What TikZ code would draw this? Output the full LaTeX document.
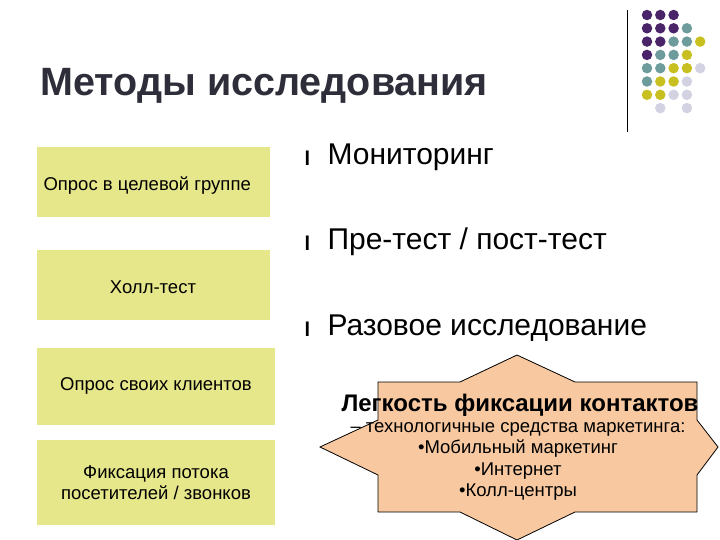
\documentclass[tikz,border=0pt]{standalone}
\usepackage{fontspec}
\setmainfont{Liberation Sans}
\begin{document}
\begin{tikzpicture}[x=1pt,y=-1pt,
  box/.style={fill=boxc,draw=none},
  btxt/.style={font=\fontsize{18.5}{21}\selectfont,align=center},
  item/.style={anchor=west,font=\fontsize{30}{34}\selectfont},
  bul/.style={anchor=west,font=\fontsize{20}{22}\selectfont\bfseries},
  dot/.style={circle,inner sep=0pt,minimum size=10.5pt}]
\definecolor{boxc}{HTML}{E6E68A}
\definecolor{starc}{HTML}{F8C9A0}
\definecolor{dp}{HTML}{4A2468}
\definecolor{dt}{HTML}{6E9C9C}
\definecolor{dy}{HTML}{C8C020}
\definecolor{dl}{HTML}{D2D2E2}
\definecolor{tit}{HTML}{2E2E3A}
\useasboundingbox (0,0) rectangle (720,540);
\fill[white] (0,0) rectangle (720,540);
% decoration
\draw[line width=0.8pt] (627,10) -- (627,132);
\foreach \c/\cc/\r in {0/dp/0,1/dp/0,2/dp/0,
 0/dp/1,1/dp/1,2/dp/1,3/dt/1,
 0/dp/2,1/dp/2,2/dt/2,3/dt/2,4/dy/2,
 0/dp/3,1/dt/3,2/dt/3,3/dy/3,
 0/dt/4,1/dt/4,2/dy/4,3/dy/4,4/dl/4,
 0/dt/5,1/dy/5,2/dy/5,3/dl/5,
 0/dy/6,1/dy/6,2/dl/6,3/dl/6,
 1/dl/7,3/dl/7}
  \node[dot,fill=\cc] at ({647+13.3*\c},{15+13.3*\r}) {};
% title
\node[anchor=west,font=\fontsize{39.5}{44}\selectfont\bfseries,text=tit] (title) at (37,86) {Методы исследования};
% boxes
\fill[box] (37,147) rectangle (270,217);
\node[btxt,anchor=west] (b1) at (40,186) {Опрос в целевой группе};
\fill[box] (37,250) rectangle (270,320);
\node[btxt] (b2) at (153,287) {Холл-тест};
\fill[box] (37,348) rectangle (275,425);
\node[btxt] (b3) at (156,386) {Опрос своих клиентов};
\fill[box] (37,440) rectangle (275,525);
\node[btxt] (b4) at (156,483) {Фиксация потока\\посетителей / звонков};
% bullets
\node[bul] at (301,158) {l};
\node[item] (i1) at (324,157) {Мониторинг};
\node[bul] at (301,243) {l};
\node[item] (i2) at (324,242) {Пре-тест / пост-тест};
\node[bul] at (301,329) {l};
\node[item] (i3) at (324,328) {Разовое исследование};
% star
\draw[fill=starc,line width=0.8pt] (378,382) -- (460,382) -- (517,355) -- (575,382) -- (697,382) -- (697,420) -- (718,447) -- (697,475) -- (697,512) -- (575,512) -- (517,540) -- (460,512) -- (378,512) -- (378,475) -- (320,447) -- (378,420) -- cycle;
\node[font=\fontsize{24}{28}\selectfont\bfseries] (s1) at (520,405) {Легкость фиксации контактов};
\node[font=\fontsize{18.5}{21.5}\selectfont,align=center,anchor=north] (s2) at (518,419) {– технологичные средства маркетинга:\\•Мобильный маркетинг\\•Интернет\\•Колл-центры};
\end{tikzpicture}
\end{document}
